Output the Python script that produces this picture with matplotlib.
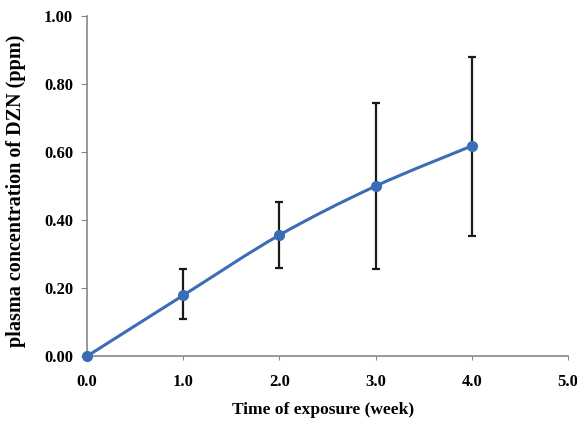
import matplotlib.pyplot as plt
from matplotlib.path import Path
from matplotlib.patches import PathPatch

weeks = [0.0, 1.0, 2.0, 3.0, 4.0]
conc = [0.0, 0.179, 0.356, 0.50, 0.618]
err_low = [0.0, 0.109, 0.259, 0.256, 0.353]
err_high = [0.0, 0.256, 0.453, 0.744, 0.879]

x_ticks = [0.0, 1.0, 2.0, 3.0, 4.0, 5.0]
y_ticks = [0.0, 0.2, 0.4, 0.6, 0.8, 1.0]

blue = '#3a6db5'
font = 'Liberation Serif'

fig = plt.figure(figsize=(5.77, 4.24), dpi=100)
ax = fig.add_axes([0.151, 0.16, 0.833, 0.802])

# smoothed line (Excel-style bezier through the points)
verts = [(weeks[0], conc[0])]
codes = [Path.MOVETO]
n = len(weeks)
for i in range(n - 1):
    p0 = (weeks[max(i - 1, 0)], conc[max(i - 1, 0)])
    p1 = (weeks[i], conc[i])
    p2 = (weeks[i + 1], conc[i + 1])
    p3 = (weeks[min(i + 2, n - 1)], conc[min(i + 2, n - 1)])
    c1 = (p1[0] + (p2[0] - p0[0]) / 6, p1[1] + (p2[1] - p0[1]) / 6)
    c2 = (p2[0] - (p3[0] - p1[0]) / 6, p2[1] - (p3[1] - p1[1]) / 6)
    verts += [c1, c2, p2]
    codes += [Path.CURVE4] * 3
ax.add_patch(PathPatch(Path(verts, codes), fill=False, edgecolor=blue, lw=2.2, zorder=3))

yerr = [[c - lo for c, lo in zip(conc, err_low)], [hi - c for c, hi in zip(conc, err_high)]]
ax.errorbar(weeks[1:], conc[1:], yerr=[yerr[0][1:], yerr[1][1:]], fmt='none',
            ecolor='#1a1a1a', elinewidth=1.6, capsize=3, capthick=1.6, zorder=2)
ax.plot(weeks, conc, 'o', color=blue, markersize=7, zorder=4, clip_on=False)

ax.set_xlim(0, 5)
ax.set_ylim(0, 1)
ax.set_xticks(x_ticks)
ax.set_yticks(y_ticks)
ax.set_xticklabels([f'{v:.1f}' for v in x_ticks], fontfamily=font, fontweight='bold', fontsize=12)
ax.set_yticklabels([f'{v:.2f}' for v in y_ticks], fontfamily=font, fontweight='bold', fontsize=12)

for s in ['top', 'right']:
    ax.spines[s].set_visible(False)
for s in ['left', 'bottom']:
    ax.spines[s].set_color('#888888')
    ax.spines[s].set_linewidth(1.2)
ax.tick_params(axis='y', direction='out', length=4, color='#888888', pad=6)
ax.tick_params(axis='x', direction='out', length=3, color='#888888', pad=10)

ax.set_xlabel('Time of exposure (week)', fontfamily=font, fontweight='bold', fontsize=12.5)
ax.xaxis.set_label_coords(0.49, -0.135)
ax.set_ylabel('plasma concentration of DZN (ppm)', fontfamily=font, fontweight='bold', fontsize=14.5)
ax.yaxis.set_label_coords(-0.127, 0.485)

fig.savefig('out.png', dpi=100)
